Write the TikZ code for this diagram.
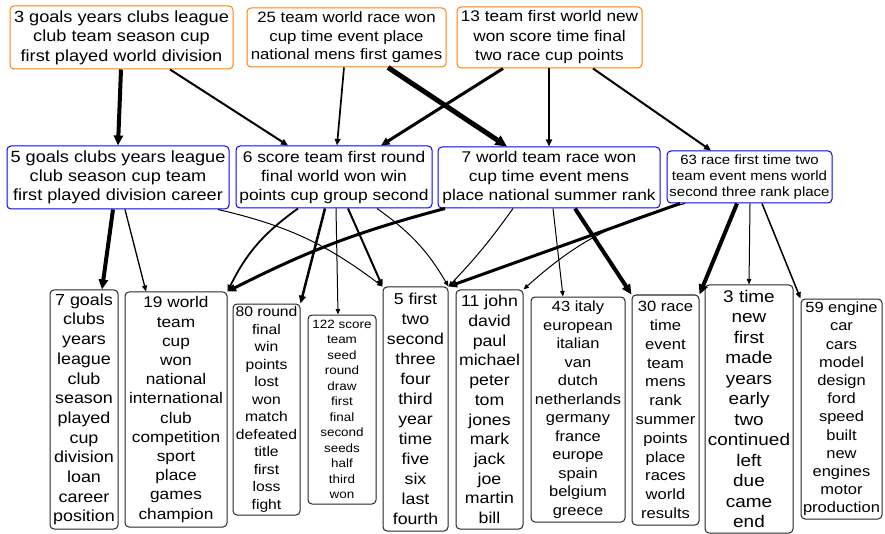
\documentclass[tikz,border=0pt]{standalone}
\usepackage{fontspec}
\setmainfont{Liberation Sans}[FakeStretch=1.12]
\usetikzlibrary{arrows.meta}
\newcommand{\fsz}[2]{\fontsize{#1}{#2}\selectfont}
\tikzset{
  box/.style={rounded corners=4pt, line width=1pt, inner sep=0pt, align=center},
  topbox/.style={box, draw=orange},
  midbox/.style={box, draw=blue},
  wordbox/.style={box, draw=black!85},
  link/.style={-{Triangle[length=4pt 1.5, width=3pt 1.5]}, line width=#1},
  link/.default=1pt
}
\begin{document}
\begin{tikzpicture}[x=1pt, y=-1pt]
\useasboundingbox[fill=white] (0,0) rectangle (885,534);

% top level topics
\node[topbox, minimum width=223, minimum height=63, font=\fsz{16.2}{19.5}] (T3) at (121.5,37.5)
  {3 goals years clubs league\\club team season cup\\first played world division};
\node[topbox, minimum width=199, minimum height=59, font=\fsz{15}{18.5}] (T25) at (346.5,37.5)
  {25 team world race won\\cup time event place\\national mens first games};
\node[topbox, minimum width=185, minimum height=61, font=\fsz{15.4}{19.5}] (T13) at (549.5,37.5)
  {13 team first world new\\won score time final\\two race cup points};

% middle level topics
\node[midbox, minimum width=222, minimum height=63, font=\fsz{16.2}{19}] (M5) at (118,177.5)
  {5 goals clubs years league\\club season cup team\\first played division career};
\node[midbox, minimum width=196, minimum height=62, font=\fsz{15.5}{19}] (M6) at (334,177)
  {6 score team first round\\final world won win\\points cup group second};
\node[midbox, minimum width=222, minimum height=61, font=\fsz{15.5}{19}] (M7) at (549,177.5)
  {7 world team race won\\cup time event mens\\place national summer rank};
\node[midbox, minimum width=165, minimum height=52, font=\fsz{13.4}{16}] (M63) at (749.5,177)
  {63 race first time two\\team event mens world\\second three rank place};

% word lists
\node[wordbox, minimum width=68, minimum height=239, font=\fsz{16}{19.7}] (B7) at (84,409.5)
  {7 goals\\clubs\\years\\league\\club\\season\\played\\cup\\division\\loan\\career\\position};
\node[wordbox, minimum width=102, minimum height=235, font=\fsz{15.4}{19.2}] (B19) at (176,409.5)
  {19 world\\team\\cup\\won\\national\\international\\club\\competition\\sport\\place\\games\\champion};
\node[wordbox, minimum width=67, minimum height=211, font=\fsz{14}{17.5}] (B80) at (266.5,409.5)
  {80 round\\final\\win\\points\\lost\\won\\match\\defeated\\title\\first\\loss\\fight};
\node[wordbox, minimum width=68, minimum height=189, font=\fsz{12}{15.5}] (B122) at (342,409.5)
  {122 score\\team\\seed\\round\\draw\\first\\final\\second\\seeds\\half\\third\\won};
\node[wordbox, minimum width=65, minimum height=244, font=\fsz{15.8}{20}] (B5) at (415.5,409)
  {5 first\\two\\second\\three\\four\\third\\year\\time\\five\\six\\last\\fourth};
\node[wordbox, minimum width=67, minimum height=239, font=\fsz{15.8}{19.7}] (B11) at (489.5,409.5)
  {11 john\\david\\paul\\michael\\peter\\tom\\jones\\mark\\jack\\joe\\martin\\bill};
\node[wordbox, minimum width=94, minimum height=225, font=\fsz{14.7}{18.5}] (B43) at (578,409.5)
  {43 italy\\european\\italian\\van\\dutch\\netherlands\\germany\\france\\europe\\spain\\belgium\\greece};
\node[wordbox, minimum width=67, minimum height=230, font=\fsz{14.8}{18.8}] (B30) at (665.5,410)
  {30 race\\time\\event\\team\\mens\\rank\\summer\\points\\place\\races\\world\\results};
\node[wordbox, minimum width=88, minimum height=248, font=\fsz{16.9}{20.5}] (B3) at (749,409)
  {3 time\\new\\first\\made\\years\\early\\two\\continued\\left\\due\\came\\end};
\node[wordbox, minimum width=81, minimum height=220, font=\fsz{14.7}{18.2}] (B59) at (841.5,409)
  {59 engine\\car\\cars\\model\\design\\ford\\speed\\built\\new\\engines\\motor\\production};

% top -> middle
\draw[link=4pt] ([xshift=-0.5]T3.south) -- (M5.north);
\draw[link=2pt] ([xshift=48.5]T3.south) -- ([xshift=-46]M6.north);
\draw[link=1.7pt] ([xshift=-2.5]T25.south) -- ([xshift=3]M6.north);
\draw[link=5pt] ([xshift=41.5]T25.south) -- ([xshift=-42]M7.north);
\draw[link=3pt] ([xshift=-46.5]T13.south) -- ([xshift=47]M6.north);
\draw[link=2pt] ([xshift=-0.5]T13.south) -- (M7.north);
\draw[link=2pt] ([xshift=43.5]T13.south) -- ([xshift=-38.5]M63.north);

% middle -> word lists
\draw[link=4pt] ([xshift=-5]M5.south) -- ([xshift=18]B7.north);
\draw[link=1.3pt] ([xshift=7]M5.south) -- ([xshift=-30]B19.north);
\draw[link=1pt] ([xshift=100]M5.south) to[bend left=12] (B5.north west);
\draw[link=1.8pt] ([xshift=-36]M6.south) to[bend right=14] (B19.north east);
\draw[link=2.5pt] ([xshift=-9]M6.south) -- (B80.north east);
\draw[link=1pt] ([xshift=2]M6.south) -- ([xshift=-4]B122.north);
\draw[link=2pt] ([xshift=14]M6.south) -- (B5.north west);
\draw[link=1pt] ([xshift=43]M6.south) to[bend left=12] (B5.north east);
\draw[link=3pt] ([xshift=-104]M7.south) to[bend right=6] (B19.north east);
\draw[link=1pt] ([xshift=-36]M7.south) to[bend left=4] (B5.north east);
\draw[link=1pt] ([xshift=4]M7.south) -- ([xshift=-15]B43.north);
\draw[link=4pt] ([xshift=26]M7.south) -- (B30.north west);
\draw[link=3pt] ([xshift=-69.5]M63.south) -- (B5.north east);
\draw[link=1pt] ([xshift=-64.5]M63.south) to[bend right=14] (B11.north east);
\draw[link=4pt] ([xshift=-12.5]M63.south) -- (B30.north east);
\draw[link=1pt] ([xshift=0.5]M63.south) -- (B3.north);
\draw[link=1.5pt] ([xshift=12.5]M63.south) -- (B59.north west);
\end{tikzpicture}
\end{document}
